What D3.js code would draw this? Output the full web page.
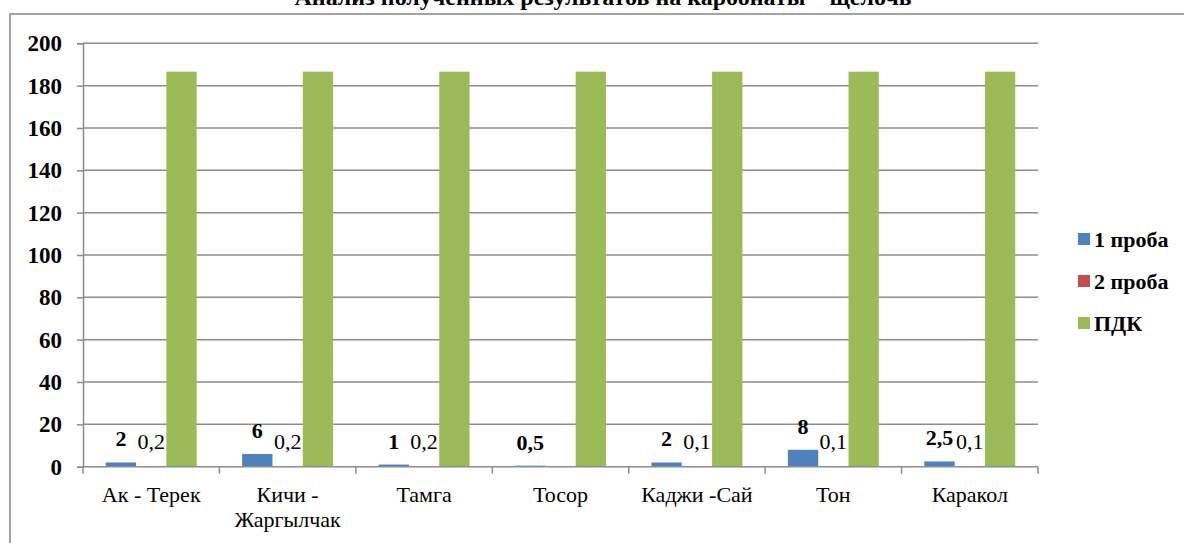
<!DOCTYPE html>
<html>
<head>
<meta charset="utf-8">
<script src="https://cdn.jsdelivr.net/npm/d3@7"></script>
<style>
  html, body { margin: 0; padding: 0; background: #fff; }
  svg { display: block; }
</style>
</head>
<body>
<svg id="chart" width="1184" height="543"></svg>
<script>
// Sampling sites along the river
const categories = ["Ак - Терек", "Кичи - Жаргылчак", "Тамга", "Тосор", "Каджи -Сай", "Тон", "Каракол"];
// Category labels split into lines
const categoryLines = [["Ак - Терек"], ["Кичи -", "Жаргылчак"], ["Тамга"], ["Тосор"], ["Каджи -Сай"], ["Тон"], ["Каракол"]];

const seriesNames = ["1 проба", "2 проба", "ПДК"];
const probe1 = [2, 6, 1, 0.5, 2, 8, 2.5];
const probe2 = [0.2, 0.2, 0.2, null, 0.1, 0.1, 0.1];
const pdk = [186.6, 186.6, 186.6, 186.6, 186.6, 186.6, 186.6];
const seriesColors = ["#4F81BD", "#C0504D", "#9BBB59"];

const yTicks = [0, 20, 40, 60, 80, 100, 120, 140, 160, 180, 200];
const titleText = "Анализ полученных результатов на карбонаты – щелочь";

const seriesValues = [probe1, probe2, pdk];
const SERIF = "'Liberation Serif', 'Times New Roman', Times, 'DejaVu Serif', 'Noto Serif', serif";

const svg = d3.select("#chart");

// Outer chart frame (runs past the right and bottom edges)
svg.append("rect")
  .attr("x", 10).attr("y", 14)
  .attr("width", 1200).attr("height", 600)
  .attr("fill", "none")
  .attr("stroke", "#8c8c8c")
  .attr("stroke-width", 1.6);

// Title
svg.append("text")
  .style("font-family", SERIF)
  .attr("x", 603).attr("y", 5)
  .attr("text-anchor", "middle")
  .attr("font-weight", "bold")
  .attr("font-size", 24)
  .attr("fill", "#000")
  .text(titleText);

const plot = { left: 83, right: 1038, top: 43.3, bottom: 466.7 };

const x0 = d3.scaleBand()
  .domain(categories)
  .range([plot.left, plot.right])
  .paddingInner(0).paddingOuter(0);

const x1 = d3.scaleBand()
  .domain(seriesNames)
  .range([0, x0.bandwidth()])
  .paddingInner(0).paddingOuter(0.75);

const y = d3.scaleLinear()
  .domain([0, 200])
  .range([plot.bottom, plot.top]);

// Horizontal gridlines
svg.append("g")
  .selectAll("line")
  .data(yTicks.filter(t => t > 0))
  .join("line")
  .attr("x1", plot.left).attr("x2", plot.right)
  .attr("y1", d => y(d)).attr("y2", d => y(d))
  .attr("stroke", "#8c8c8c")
  .attr("stroke-width", 1.5);

// Y axis
const yAxis = svg.append("g")
  .attr("transform", `translate(${plot.left},0)`)
  .call(d3.axisLeft(y).tickValues(yTicks).tickSize(6).tickPadding(15).tickFormat(d3.format("d")));
yAxis.attr("font-family", null).style("font-family", SERIF);
yAxis.select(".domain").attr("stroke", "#8c8c8c").attr("stroke-width", 1.5);
yAxis.selectAll(".tick line").attr("stroke", "#8c8c8c").attr("stroke-width", 1.5);
yAxis.selectAll(".tick text")
  .style("font-family", SERIF)
  .attr("font-size", 23)
  .attr("font-weight", "bold")
  .attr("fill", "#000");

// Bars
const groups = svg.append("g")
  .selectAll("g")
  .data(categories)
  .join("g")
  .attr("transform", d => `translate(${x0(d)},0)`);

groups.selectAll("rect")
  .data((c, i) => seriesNames.map((s, k) => ({ s, k, v: seriesValues[k][i] })).filter(d => d.v != null))
  .join("rect")
  .attr("x", d => x1(d.s))
  .attr("width", x1.bandwidth())
  .attr("y", d => y(d.v))
  .attr("height", d => y(0) - y(d.v))
  .attr("fill", d => seriesColors[d.k]);

// X axis line with boundary ticks
svg.append("line")
  .attr("x1", plot.left).attr("x2", plot.right)
  .attr("y1", y(0)).attr("y2", y(0))
  .attr("stroke", "#8c8c8c").attr("stroke-width", 1.5);

const boundaries = categories.map(c => x0(c)).concat([x0.range()[1]]);
svg.append("g")
  .selectAll("line")
  .data(boundaries)
  .join("line")
  .attr("x1", d => d).attr("x2", d => d)
  .attr("y1", y(0)).attr("y2", y(0) + 7)
  .attr("stroke", "#8c8c8c").attr("stroke-width", 1.5);

// Category labels
const catLabels = svg.append("g")
  .selectAll("text")
  .data(categories)
  .join("text")
  .style("font-family", SERIF)
  .attr("x", d => x0(d) + x0.bandwidth() / 2)
  .attr("y", 502)
  .attr("text-anchor", "middle")
  .attr("font-size", 22)
  .attr("fill", "#000");
catLabels.each(function(d, i) {
  const t = d3.select(this);
  categoryLines[i].forEach((line, j) => {
    t.append("tspan")
      .attr("x", x0(d) + x0.bandwidth() / 2)
      .attr("dy", j === 0 ? 0 : 24.5)
      .text(line);
  });
});

const fmt = v => String(v).replace(".", ",");

// Value labels for the first sample (bold)
svg.append("g")
  .selectAll("text")
  .data(categories)
  .join("text")
  .style("font-family", SERIF)
  .attr("x", (c) => x0(c) + x1(seriesNames[0]) + x1.bandwidth() / 2)
  .attr("y", (c, i) => y(probe1[i]) - 16)
  .attr("text-anchor", "middle")
  .attr("font-size", 22)
  .attr("font-weight", "bold")
  .attr("fill", "#000")
  .text((c, i) => fmt(probe1[i]));

// Value labels for the second sample
svg.append("g")
  .selectAll("text")
  .data(categories.map((c, i) => ({ c, v: probe2[i] })).filter(d => d.v != null))
  .join("text")
  .style("font-family", SERIF)
  .attr("x", d => x0(d.c) + x1(seriesNames[1]) + x1.bandwidth() / 2)
  .attr("y", d => y(d.v) - 17)
  .attr("text-anchor", "middle")
  .attr("font-size", 22)
  .attr("fill", "#000")
  .text(d => fmt(d.v));

// Legend
const legend = svg.append("g")
  .selectAll("g")
  .data(seriesNames)
  .join("g")
  .attr("transform", (d, i) => `translate(1078,${239 + i * 42})`);
legend.append("rect")
  .attr("x", 0).attr("y", -6)
  .attr("width", 12).attr("height", 12)
  .attr("fill", (d, i) => seriesColors[i]);
legend.append("text")
  .style("font-family", SERIF)
  .attr("x", 16).attr("y", 7.5)
  .attr("font-size", 22)
  .attr("font-weight", "bold")
  .attr("fill", "#000")
  .text(d => d);
</script>
</body>
</html>
